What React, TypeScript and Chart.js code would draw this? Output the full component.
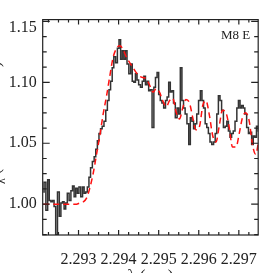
import React, { useEffect, useRef } from 'react';
import { Chart, registerables } from 'chart.js';

Chart.register(...registerables);

// Observed spectrum (histogram)
const wavelength = [
  2.29212, 2.29216, 2.29221, 2.29225, 2.29229, 2.29233, 2.29237, 2.29241, 2.29245, 2.29250,
  2.29254, 2.29258, 2.29262, 2.29266, 2.29270, 2.29274, 2.29279, 2.29283, 2.29287, 2.29291,
  2.29295, 2.29299, 2.29303, 2.29308, 2.29312, 2.29316, 2.29320, 2.29324, 2.29328, 2.29332,
  2.29337, 2.29341, 2.29345, 2.29349, 2.29353, 2.29357, 2.29361, 2.29366, 2.29370, 2.29374,
  2.29378, 2.29382, 2.29386, 2.29390, 2.29395, 2.29399, 2.29403, 2.29407, 2.29411, 2.29415,
  2.29419, 2.29423, 2.29428, 2.29432, 2.29436, 2.29440, 2.29444, 2.29448, 2.29452, 2.29457,
  2.29461, 2.29465, 2.29469, 2.29473, 2.29477, 2.29481, 2.29486, 2.29490, 2.29494, 2.29498,
  2.29502, 2.29506, 2.29510, 2.29515, 2.29519, 2.29523, 2.29527, 2.29531, 2.29535, 2.29539,
  2.29544, 2.29548, 2.29552, 2.29556, 2.29560, 2.29564, 2.29568, 2.29573, 2.29577, 2.29581,
  2.29585, 2.29589, 2.29593, 2.29597, 2.29602, 2.29606, 2.29610, 2.29614, 2.29618, 2.29622,
  2.29626, 2.29630, 2.29635, 2.29639, 2.29643, 2.29647, 2.29651, 2.29655, 2.29659, 2.29664,
  2.29668, 2.29672, 2.29676, 2.29680, 2.29684, 2.29688, 2.29693, 2.29697, 2.29701, 2.29705,
  2.29709, 2.29713, 2.29717, 2.29722, 2.29726, 2.29730, 2.29734, 2.29738, 2.29742, 2.29746,
  2.29751,
];

const observedFlux = [
  1.010, 1.018, 0.995, 1.020, 1.003, 1.002, 1.003, 0.998, 0.975, 1.010,
  0.990, 1.001, 1.002, 0.996, 1.001, 1.009, 1.003, 1.011, 1.015, 1.006,
  1.013, 1.009, 1.014, 1.006, 1.014, 1.009, 1.010, 1.014, 1.022, 1.030,
  1.035, 1.039, 1.045, 1.052, 1.058, 1.062, 1.064, 1.068, 1.077, 1.085,
  1.094, 1.101, 1.112, 1.121, 1.116, 1.128, 1.135, 1.119, 1.126, 1.119,
  1.126, 1.115, 1.107, 1.115, 1.101, 1.100, 1.107, 1.102, 1.098, 1.096,
  1.101, 1.105, 1.098, 1.101, 1.093, 1.094, 1.063, 1.096, 1.104, 1.108,
  1.090, 1.085, 1.083, 1.079, 1.085, 1.088, 1.100, 1.092, 1.093, 1.083,
  1.071, 1.079, 1.074, 1.112, 1.085, 1.079, 1.074, 1.066, 1.049, 1.071,
  1.068, 1.062, 1.066, 1.074, 1.085, 1.093, 1.085, 1.079, 1.066, 1.063,
  1.058, 1.051, 1.049, 1.051, 1.058, 1.074, 1.089, 1.085, 1.077, 1.063,
  1.064, 1.068, 1.060, 1.055, 1.058, 1.060, 1.068, 1.079, 1.085, 1.079,
  1.081, 1.079, 1.074, 1.063, 1.058, 1.059, 1.049, 1.056, 1.055, 1.064,
  1.060,
];

// Model spectrum (red dashed)
const modelWavelength = [
  2.29212, 2.29221, 2.29229, 2.29237, 2.29245, 2.29254, 2.29262, 2.29270, 2.29279, 2.29287,
  2.29295, 2.29303, 2.29312, 2.29320, 2.29328, 2.29337, 2.29345, 2.29353, 2.29361, 2.29370,
  2.29378, 2.29386, 2.29395, 2.29403, 2.29411, 2.29419, 2.29428, 2.29436, 2.29444, 2.29452,
  2.29461, 2.29469, 2.29477, 2.29486, 2.29494, 2.29502, 2.29510, 2.29519, 2.29527, 2.29535,
  2.29544, 2.29552, 2.29560, 2.29568, 2.29577, 2.29585, 2.29593, 2.29602, 2.29610, 2.29618,
  2.29626, 2.29635, 2.29643, 2.29651, 2.29659, 2.29668, 2.29676, 2.29684, 2.29693, 2.29701,
  2.29709, 2.29717, 2.29726, 2.29734, 2.29742, 2.29751,
];

const modelFlux = [
  1.000, 1.000, 1.000, 1.000, 1.000, 1.000, 1.000, 1.000, 1.000, 1.000,
  1.000, 1.001, 1.002, 1.005, 1.013, 1.026, 1.041, 1.056, 1.073, 1.089,
  1.105, 1.120, 1.128, 1.130, 1.127, 1.121, 1.116, 1.112, 1.108, 1.105,
  1.104, 1.103, 1.098, 1.092, 1.095, 1.092, 1.085, 1.080, 1.085, 1.087,
  1.075, 1.070, 1.079, 1.086, 1.083, 1.071, 1.061, 1.064, 1.081, 1.085,
  1.074, 1.056, 1.051, 1.064, 1.077, 1.075, 1.063, 1.047, 1.047, 1.058,
  1.071, 1.075, 1.068, 1.049, 1.041, 1.055,
];

const xTickValues = [2.293, 2.294, 2.295, 2.296, 2.297];
const yTickValues = [1.0, 1.05, 1.1, 1.15];

const X_MIN = 2.292106;
const X_MAX = 2.297483;
const Y_MIN = 0.9747;
const Y_MAX = 1.1515;

const SERIF = "'Liberation Serif', 'Times New Roman', serif";
const INK = '#222222';

const decorPlugin = {
  id: 'decor',
  afterDatasetsDraw(chart: any) {
    const { ctx, chartArea: a, scales } = chart;
    const xs = scales.x;
    const ys = scales.y;
    ctx.save();
    ctx.strokeStyle = INK;
    ctx.lineWidth = 1.2;
    ctx.strokeRect(a.left, a.top, a.right - a.left, a.bottom - a.top);

    // x ticks (inward, top and bottom)
    const xStep = 0.00025;
    for (let k = Math.ceil(xs.min / xStep); k * xStep <= xs.max; k++) {
      const v = k * xStep;
      const major = Math.abs(v / 0.001 - Math.round(v / 0.001)) < 1e-6;
      const len = major ? 5 : 3;
      const px = xs.getPixelForValue(v);
      ctx.beginPath();
      ctx.moveTo(px, a.bottom);
      ctx.lineTo(px, a.bottom - len);
      ctx.moveTo(px, a.top);
      ctx.lineTo(px, a.top + len);
      ctx.stroke();
    }
    // y ticks (inward, left and right)
    const yStep = 0.0125;
    for (let k = Math.ceil(ys.min / yStep); k * yStep <= ys.max; k++) {
      const v = k * yStep;
      const major = Math.abs(v / 0.05 - Math.round(v / 0.05)) < 1e-6;
      const len = major ? 7 : 4;
      const py = ys.getPixelForValue(v);
      ctx.beginPath();
      ctx.moveTo(a.left, py);
      ctx.lineTo(a.left + len, py);
      ctx.moveTo(a.right, py);
      ctx.lineTo(a.right - len, py);
      ctx.stroke();
    }

    // label inside plot
    ctx.fillStyle = INK;
    ctx.font = `13px ${SERIF}`;
    ctx.textAlign = 'right';
    ctx.textBaseline = 'alphabetic';
    ctx.fillText('M8 E', a.right - 8, a.top + 19);

    // x axis title (mostly below the visible area)
    ctx.font = `17px ${SERIF}`;
    ctx.textAlign = 'center';
    ctx.fillText('λ (μm)', (a.left + a.right) / 2, 281);

    // y axis title (mostly left of the visible area)
    ctx.translate(0, (a.top + a.bottom) / 2);
    ctx.rotate(-Math.PI / 2);
    const mainFont = `16px ${SERIF}`;
    const subFont = `12px ${SERIF}`;
    const partF = 'F';
    const partSub = 'λ';
    const partRest = ' (normalized flux)';
    ctx.font = mainFont;
    const wF = ctx.measureText(partF).width;
    const wRest = ctx.measureText(partRest).width;
    ctx.font = subFont;
    const wSub = ctx.measureText(partSub).width;
    const total = wF + wSub + wRest;
    let x0 = -total / 2;
    ctx.textAlign = 'left';
    ctx.font = mainFont;
    ctx.fillText(partF, x0, 0);
    x0 += wF;
    ctx.font = subFont;
    ctx.fillText(partSub, x0, 5);
    x0 += wSub;
    ctx.font = mainFont;
    ctx.fillText(partRest, x0, 0);
    ctx.restore();
  },
};

export default function App() {
  const ref = useRef<HTMLCanvasElement>(null);

  useEffect(() => {
    const canvas = ref.current;
    if (!canvas) return;
    const chart = new Chart(canvas, {
      type: 'line',
      data: {
        datasets: [
          {
            label: 'model',
            data: modelWavelength.map((w, i) => ({ x: w, y: modelFlux[i] })),
            borderColor: '#ff1010',
            borderWidth: 1.5,
            borderDash: [6, 4],
            pointRadius: 0,
            cubicInterpolationMode: 'monotone',
            fill: false,
            order: 0,
          },
          {
            label: 'observed',
            data: wavelength.map((w, i) => ({ x: w, y: observedFlux[i] })),
            borderColor: '#333333',
            borderWidth: 1.5,
            stepped: 'middle',
            pointRadius: 0,
            fill: false,
            order: 1,
          },
        ],
      },
      options: {
        animation: false,
        responsive: false,
        maintainAspectRatio: false,
        layout: { padding: { top: 19, right: 13, left: 0, bottom: 0 } },
        plugins: { legend: { display: false }, tooltip: { enabled: false }, title: { display: false } },
        scales: {
          x: {
            type: 'linear',
            position: 'bottom',
            min: X_MIN,
            max: X_MAX,
            grid: { display: false, drawTicks: false },
            border: { display: false },
            afterBuildTicks: (s: any) => {
              s.ticks = xTickValues.map((v) => ({ value: v }));
            },
            afterFit: (s: any) => {
              s.height = 38;
            },
            ticks: {
              autoSkip: false,
              maxRotation: 0,
              minRotation: 0,
              padding: 15,
              color: INK,
              font: { family: SERIF, size: 16 },
              callback: (v: any) => Number(v).toFixed(3),
            },
          },
          y: {
            type: 'linear',
            position: 'left',
            min: Y_MIN,
            max: Y_MAX,
            grid: { display: false, drawTicks: false },
            border: { display: false },
            afterBuildTicks: (s: any) => {
              s.ticks = yTickValues.map((v) => ({ value: v }));
            },
            afterFit: (s: any) => {
              s.width = 42.7;
            },
            ticks: {
              autoSkip: false,
              padding: 6,
              color: INK,
              font: { family: SERIF, size: 16, lineHeight: 0.85 },
              // the top label sits a little below its tick, as in the original
              callback: (v: any) => {
                const s = Number(v).toFixed(2);
                return Number(v) > 1.14 ? ['', s] : s;
              },
            },
          },
        },
      } as any,
      plugins: [decorPlugin],
    });
    return () => chart.destroy();
  }, []);

  return (
    <div style={{ position: 'fixed', left: 0, top: 0, width: 273, height: 273, background: '#ffffff', overflow: 'hidden' }}>
      <canvas ref={ref} width={273} height={273} style={{ display: 'block', width: 273, height: 273 }} />
    </div>
  );
}
